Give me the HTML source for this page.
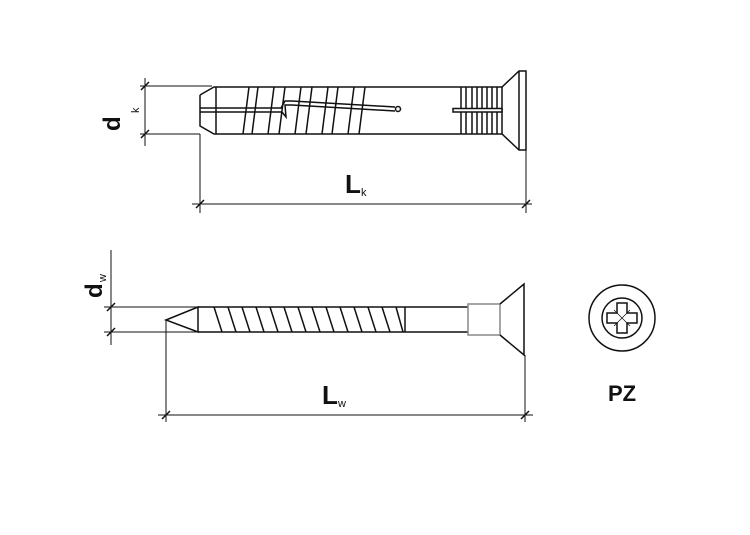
<!DOCTYPE html>
<html><head><meta charset="utf-8"><style>
html,body{margin:0;padding:0;background:#fff;}
svg{display:block}
text{font-family:"Liberation Sans",Arial,sans-serif;fill:#111}
</style></head><body>
<svg width="750" height="535" viewBox="0 0 750 535" xmlns="http://www.w3.org/2000/svg">
<g stroke="#111" stroke-width="1.5" fill="none">
<!-- DOWEL -->
<line x1="140" y1="86" x2="212" y2="86" stroke-width="1"/>
<line x1="140" y1="134" x2="200" y2="134" stroke-width="1"/>
<line x1="145" y1="78" x2="145" y2="146" stroke-width="1"/>
<line x1="141" y1="90" x2="149" y2="82"/>
<line x1="141" y1="138" x2="149" y2="130"/>
<line x1="200" y1="134" x2="200" y2="213" stroke-width="1"/>
<line x1="526" y1="150" x2="526" y2="213" stroke-width="1"/>
<line x1="192" y1="204" x2="532" y2="204" stroke-width="1"/>
<line x1="196" y1="208" x2="204" y2="200"/>
<line x1="522" y1="208" x2="530" y2="200"/>
<path d="M200 95 L214 87 L502 87 M200 95 L200 126 L214 134 L502 134"/>
<line x1="216" y1="87" x2="216" y2="134"/>
<g>
<line x1="249" y1="87" x2="243" y2="134"/><line x1="258" y1="87" x2="252" y2="134"/>
<line x1="274" y1="87" x2="268" y2="134"/><line x1="285" y1="87" x2="279" y2="134"/>
<line x1="301" y1="87" x2="295" y2="134"/><line x1="312" y1="87" x2="306" y2="134"/>
<line x1="328" y1="87" x2="322" y2="134"/><line x1="338" y1="87" x2="332" y2="134"/>
<line x1="354" y1="87" x2="348" y2="134"/><line x1="365" y1="87" x2="359" y2="134"/>
</g>
<path d="M200 108 L281 108 L285 101 L292 101 L395 107"/>
<path d="M200 112 L282 112 L286 117 L285 105 L292 105 L395 111"/>
<circle cx="398" cy="109" r="2.5" fill="#fff"/>
<g>
<line x1="461" y1="87" x2="461" y2="134"/><line x1="466" y1="87" x2="466" y2="134"/>
<line x1="472" y1="87" x2="472" y2="134"/><line x1="477" y1="87" x2="477" y2="134"/>
<line x1="482" y1="87" x2="482" y2="134"/><line x1="487" y1="87" x2="487" y2="134"/>
<line x1="492" y1="87" x2="492" y2="134"/><line x1="497" y1="87" x2="497" y2="134"/>
<line x1="502" y1="87" x2="502" y2="134"/>
</g>
<rect x="453" y="108.5" width="49" height="3.5" fill="#fff"/>
<path d="M502 87 L519 71 L526 71 L526 150 L519 150 L502 134"/>
<line x1="519" y1="71" x2="519" y2="150"/>
<!-- SCREW -->
<line x1="111" y1="250" x2="111" y2="345" stroke-width="1"/>
<line x1="104" y1="307" x2="198" y2="307" stroke-width="1"/>
<line x1="104" y1="332" x2="198" y2="332" stroke-width="1"/>
<line x1="107" y1="311" x2="115" y2="303"/>
<line x1="107" y1="336" x2="115" y2="328"/>
<line x1="166" y1="320" x2="166" y2="422" stroke-width="1"/>
<line x1="525" y1="355" x2="525" y2="422" stroke-width="1"/>
<line x1="158" y1="415" x2="533" y2="415" stroke-width="1"/>
<line x1="162" y1="419" x2="170" y2="411"/>
<line x1="521" y1="419" x2="529" y2="411"/>
<path d="M198 307 L166 320 L198 332 Z"/>
<path d="M198 307 L468 307 M198 332 L468 332"/>
<line x1="405" y1="307" x2="405" y2="332"/>
<g>
<line x1="214" y1="307" x2="222" y2="332"/><line x1="228" y1="307" x2="236" y2="332"/>
<line x1="242" y1="307" x2="250" y2="332"/><line x1="256" y1="307" x2="264" y2="332"/>
<line x1="270" y1="307" x2="278" y2="332"/><line x1="284" y1="307" x2="292" y2="332"/>
<line x1="298" y1="307" x2="306" y2="332"/><line x1="312" y1="307" x2="320" y2="332"/>
<line x1="326" y1="307" x2="334" y2="332"/><line x1="340" y1="307" x2="348" y2="332"/>
<line x1="354" y1="307" x2="362" y2="332"/><line x1="368" y1="307" x2="376" y2="332"/>
<line x1="382" y1="307" x2="390" y2="332"/><line x1="396" y1="307" x2="403" y2="332"/>
</g>
<rect x="468" y="304" width="32" height="31" stroke="#888"/>
<path d="M500 304 L524 284 L524 355 L500 335"/>
<!-- PZ -->
<circle cx="622" cy="318" r="33"/>
<circle cx="622" cy="318" r="20"/>
<path d="M617 303 L627 303 L627 313 L637 313 L637 323 L627 323 L627 333 L617 333 L617 323 L607 323 L607 313 L617 313 Z"/>
<g stroke-width="0.7"><line x1="614" y1="310" x2="630" y2="326"/><line x1="630" y1="310" x2="614" y2="326"/></g>
</g>
<text x="120" y="131" font-size="24" font-weight="bold" transform="rotate(-90 120 131)">d</text>
<text x="139" y="113" font-size="11" transform="rotate(-90 139 113)">k</text>
<text x="345" y="193" font-size="26" font-weight="bold">L</text>
<text x="361" y="196" font-size="11">k</text>
<text x="102" y="298" font-size="24" font-weight="bold" transform="rotate(-90 102 298)">d</text>
<text x="106" y="282" font-size="11" transform="rotate(-90 106 282)">w</text>
<text x="322" y="404" font-size="26" font-weight="bold">L</text>
<text x="338" y="407" font-size="11">w</text>
<text x="622" y="401" font-size="22" font-weight="bold" text-anchor="middle">PZ</text>
</svg>
</body></html>
